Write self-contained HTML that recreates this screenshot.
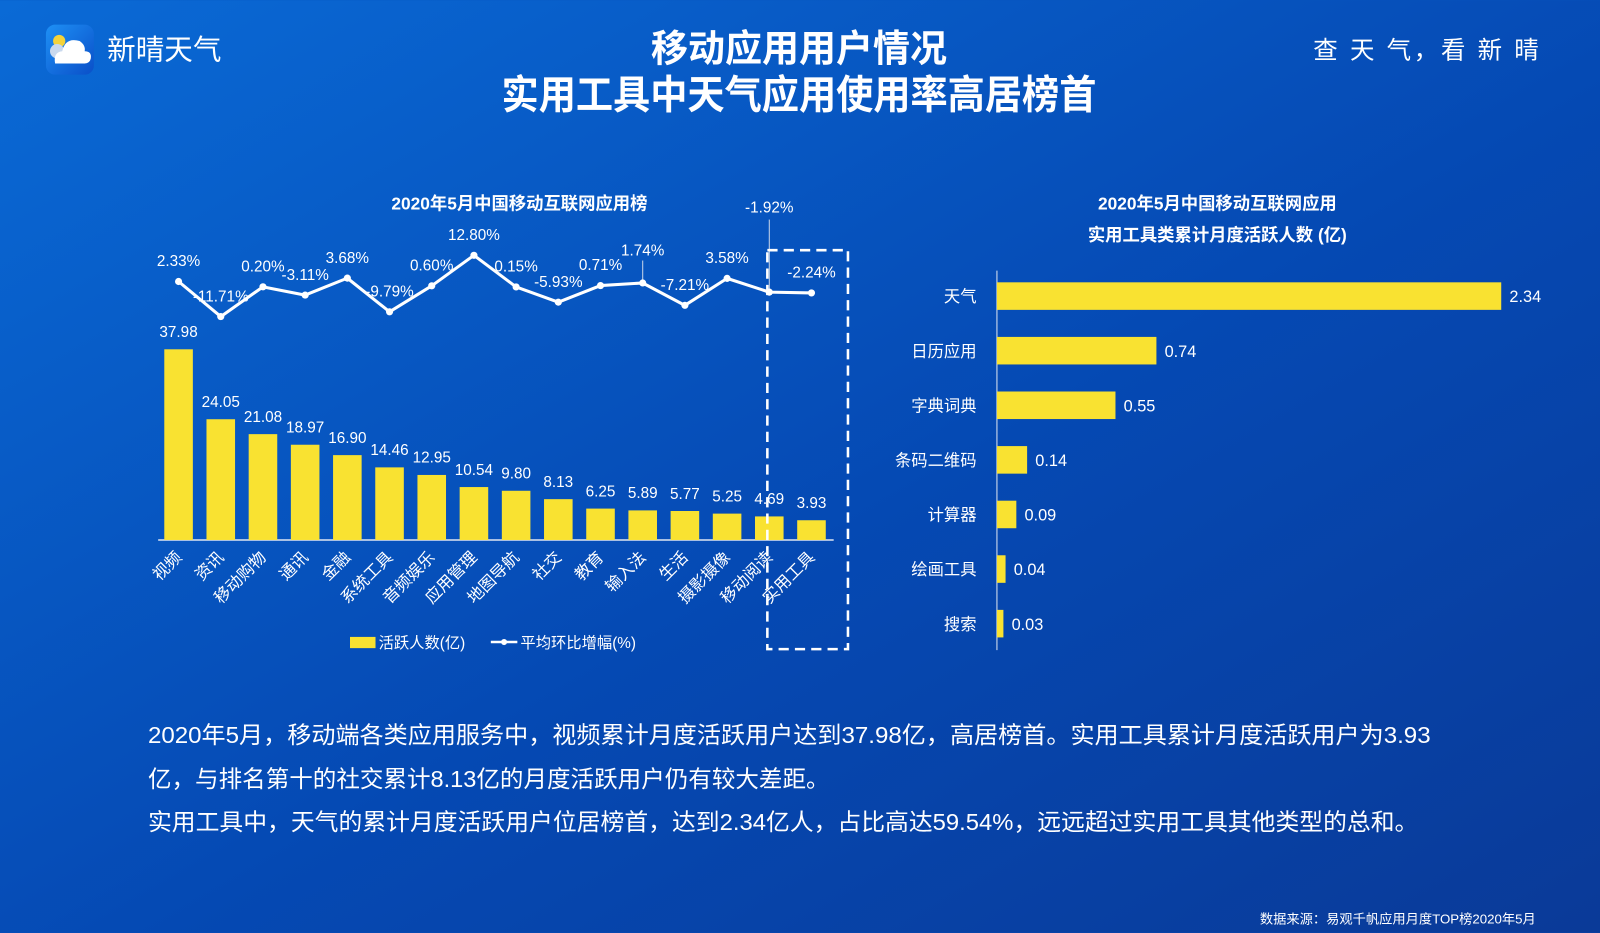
<!DOCTYPE html>
<html><head><meta charset="utf-8"><style>
html,body{margin:0;padding:0;width:1600px;height:933px;overflow:hidden;background:#0653bd}
svg{display:block}
text{font-family:"Liberation Sans","Noto Sans CJK SC",sans-serif;fill:#fff}
</style></head><body>
<svg id="page" width="1600" height="933" viewBox="0 0 1568 914" xmlns="http://www.w3.org/2000/svg">
<defs>
<linearGradient id="bg" x1="0" y1="0" x2="1" y2="1">
<stop offset="0" stop-color="#0a6ad6"/><stop offset="0.55" stop-color="#0549b3"/><stop offset="1" stop-color="#0a3a98"/>
</linearGradient>
<linearGradient id="ic" x1="0" y1="0" x2="1" y2="1"><stop offset="0" stop-color="#1e90f5"/><stop offset="1" stop-color="#0a4fc8"/></linearGradient>
</defs>
<rect width="1568" height="914" fill="url(#bg)"/>
<g>
<rect x="45" y="24" width="47" height="49" rx="9" fill="url(#ic)"/>
<circle cx="58" cy="40" r="6" fill="#f5d33a"/>
<circle cx="56" cy="50" r="7" fill="#c9d9ee"/>
<path d="M54 62 Q52 51 61 50 Q64 36 78 40 Q84 44 83 50 Q90 50 89 57 Q88 62 83 62 Z" fill="#fff"/>
</g>
<text x="105" y="58" font-size="28">新晴天气</text>
<text x="783" y="60" font-size="37" font-weight="bold" text-anchor="middle" textLength="290" lengthAdjust="spacingAndGlyphs">移动应用用户情况</text>
<text x="783" y="106" font-size="39" font-weight="bold" text-anchor="middle" textLength="583" lengthAdjust="spacingAndGlyphs">实用工具中天气应用使用率高居榜首</text>
<text x="1287" y="57" font-size="24" textLength="221" lengthAdjust="spacing">查 天 气，看 新 晴</text>

<text x="509" y="205" font-size="17" font-weight="bold" text-anchor="middle">2020年5月中国移动互联网应用榜</text>
<g id="left"></g>
<rect x="752" y="245" width="79" height="391" fill="none" stroke="#fff" stroke-width="2.5" stroke-dasharray="10,6"/>
<g>
<rect x="343" y="624" width="25" height="11" fill="#f9e231"/>
<text x="371" y="635" font-size="15">活跃人数(亿)</text>
<line x1="481" y1="629" x2="507" y2="629" stroke="#fff" stroke-width="2.5"/>
<circle cx="494" cy="629" r="3" fill="#fff"/>
<text x="510" y="635" font-size="15">平均环比增幅(%)</text>
</g>

<text x="1193" y="205" font-size="17" font-weight="bold" text-anchor="middle">2020年5月中国移动互联网应用</text>
<text x="1193" y="236" font-size="17" font-weight="bold" text-anchor="middle">实用工具类累计月度活跃人数 (亿)</text>
<g id="right"></g>

<g font-size="23">
<text x="145" y="728" textLength="1257" lengthAdjust="spacingAndGlyphs">2020年5月，移动端各类应用服务中，视频累计月度活跃用户达到37.98亿，高居榜首。实用工具累计月度活跃用户为3.93</text>
<text x="145" y="771" textLength="668" lengthAdjust="spacingAndGlyphs">亿，与排名第十的社交累计8.13亿的月度活跃用户仍有较大差距。</text>
<text x="145" y="813" textLength="1245" lengthAdjust="spacingAndGlyphs">实用工具中，天气的累计月度活跃用户位居榜首，达到2.34亿人，占比高达59.54%，远远超过实用工具其他类型的总和。</text>
</g>
<text x="1505" y="905" font-size="13" text-anchor="end">数据来源：易观千帆应用月度TOP榜2020年5月</text>
</svg>
<script>
const categories=["视频","资讯","移动购物","通讯","金融","系统工具","音频娱乐","应用管理","地图导航","社交","教育","输入法","生活","摄影摄像","移动阅读","实用工具"];
const users=[37.98,24.05,21.08,18.97,16.90,14.46,12.95,10.54,9.80,8.13,6.25,5.89,5.77,5.25,4.69,3.93];
const growth=[2.33,-11.71,0.20,-3.11,3.68,-9.79,0.60,12.80,0.15,-5.93,0.71,1.74,-7.21,3.58,-1.92,-2.24];
const toolCats=["天气","日历应用","字典词典","条码二维码","计算器","绘画工具","搜索"];
const toolVals=[2.34,0.74,0.55,0.14,0.09,0.04,0.03];

const NS="http://www.w3.org/2000/svg";
function mk(tag,attrs,parent,txt){const e=document.createElementNS(NS,tag);for(const k in attrs)e.setAttribute(k,attrs[k]);if(txt!==undefined)e.textContent=txt;parent.appendChild(e);return e;}
const L=document.getElementById('left');
const base=529, x0=155, step=41.35;
const xc=i=>x0+20+i*step;
const yb=v=>base-v*4.92;
const yl=v=>281.4-v*2.45;
const ax=mk('line',{x1:155,y1:base,x2:817,y2:base,stroke:'#dfe6f2','stroke-width':1.5},L);


users.forEach((v,i)=>{
 const r=mk('rect',{x:xc(i)-14,y:yb(v),width:28,height:base-yb(v),fill:'#f9e231'},L);
 
 
 const t=mk('text',{x:xc(i),y:yb(v)-12,'font-size':15,'text-anchor':'middle'},L,v.toFixed(2));
 
 
 const c=mk('text',{x:xc(i)+4,y:547,'font-size':16,'text-anchor':'end',transform:`rotate(-45 ${xc(i)+4} 547)`},L,categories[i]);
 
 
});
const pts=growth.map((g,i)=>xc(i)+','+yl(g)).join(' ');
const pl=mk('polyline',{points:pts,fill:'none',stroke:'#fff','stroke-width':3,'stroke-linejoin':'round'},L);


growth.forEach((g,i)=>{
 const y=yl(g);
 let ly=y-15;
 if(i===14){ly=208;const ld=mk('line',{x1:xc(i),y1:215,x2:xc(i),y2:y,stroke:'#c8d4e8','stroke-width':1},L);}
 if(i===11){ly=y-27;const ld=mk('line',{x1:xc(i),y1:y-22,x2:xc(i),y2:y,stroke:'#c8d4e8','stroke-width':1},L);}
 const p=mk('circle',{cx:xc(i),cy:y,r:3.5,fill:'#fff'},L);
 
 
 const t=mk('text',{x:xc(i),y:ly,'font-size':15,'text-anchor':'middle'},L,(g>=0?'':'-')+Math.abs(g).toFixed(2)+'%');
 
 
});

const R=document.getElementById('right');
const rx0=977, rs=211.2, ry0=290, rstep=53.5;
const ya=mk('line',{x1:rx0,y1:265,x2:rx0,y2:637,stroke:'#dfe6f2','stroke-width':1},R);


toolVals.forEach((v,i)=>{
 const cy=ry0+i*rstep;
 const r=mk('rect',{x:rx0,y:cy-13.5,width:v*rs,height:27,fill:'#f9e231'},R);
 
 
 const t=mk('text',{x:rx0+v*rs+8,y:cy+6,'font-size':16},R,v.toFixed(2));
 
 
 const c=mk('text',{x:957,y:cy+6,'font-size':16,'text-anchor':'end'},R,toolCats[i]);
 
 
});
</script>
</body></html>
